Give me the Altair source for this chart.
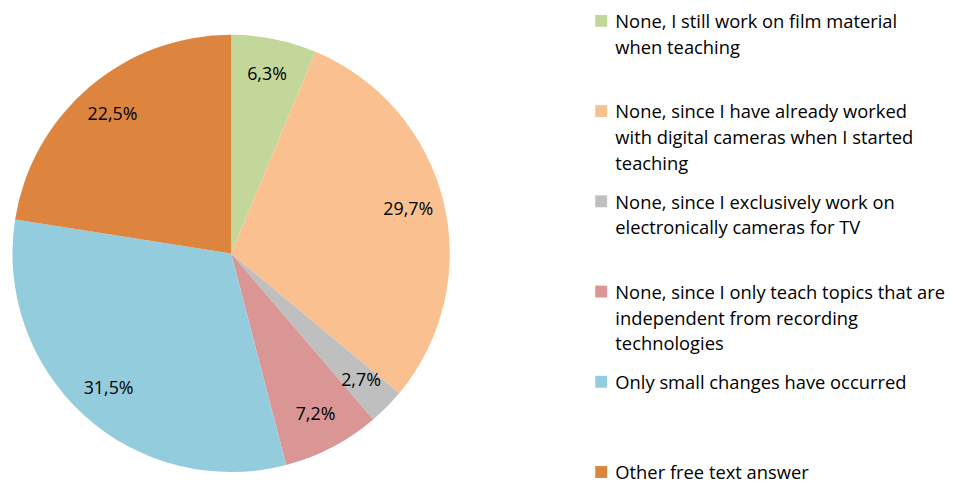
import altair as alt
import pandas as pd

categories = [
    "None, I still work on film material\nwhen teaching",
    "None, since I have already worked\nwith digital cameras when I started\nteaching",
    "None, since I exclusively work on\nelectronically cameras for TV",
    "None, since I only teach topics that are\nindependent from recording\ntechnologies",
    "Only small changes have occurred",
    "Other free text answer",
]
values = [6.3, 29.7, 2.7, 7.2, 31.5, 22.5]
labels = ["6,3%", "29,7%", "2,7%", "7,2%", "31,5%", "22,5%"]
colors = ["#C4D79B", "#FAC090", "#BFBFBF", "#D99694", "#93CDDD", "#DD853F"]

df = pd.DataFrame({
    "category": categories,
    "value": values,
    "label": labels,
    "idx": list(range(len(categories))),
})

base = alt.Chart(df).encode(
    theta=alt.Theta("value:Q", stack=True),
    order=alt.Order("idx:Q"),
)

pie = base.mark_arc(radius=220.5).encode(
    color=alt.Color(
        "category:N",
        sort=categories,
        scale=alt.Scale(domain=categories, range=colors),
        legend=alt.Legend(
            orient="none",
            legendX=589,
            legendY=-22,
            title=None,
            symbolType="M-1,0.28H1V2.28H-1Z",
            symbolSize=144,
            symbolStrokeWidth=0,
            labelFont="Open Sans",
            labelFontSize=18.5,
            labelColor="#000000",
            labelExpr="split(datum.label, '\\n')",
            labelOffset=5,
            labelLimit=400,
            labelBaseline="top",
            gridAlign="all",
            rowPadding=11,
            padding=0,
        ),
    )
)

text = base.mark_text(radius=184, font="Open Sans", fontSize=18, color="#000000").encode(
    text="label:N"
)

chart = (
    alt.layer(pie, text)
    .properties(
        width=450,
        height=459,
        autosize=alt.AutoSizeParams(type="none"),
        padding={"left": 0, "top": 16, "right": 495, "bottom": 4},
    )
    .configure(style={"guide-label": {"lineHeight": 26}})
    .configure_view(stroke=None)
)

chart.save("out.html", embed_options={"renderer": "svg", "actions": False})
